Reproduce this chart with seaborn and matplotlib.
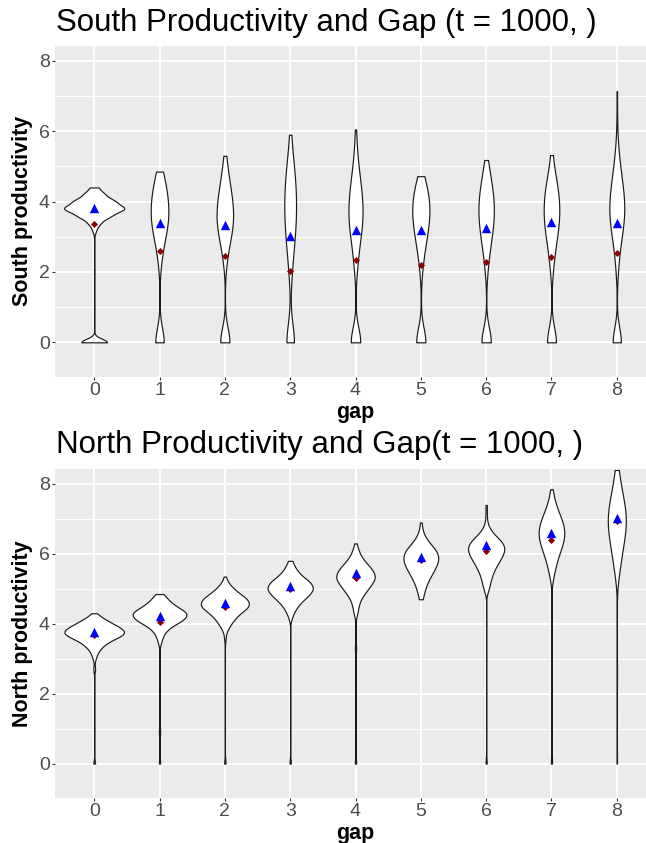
"""
Violin plots of South / North productivity by technology gap (t = 1000),
redrawn in seaborn with a ggplot-like grey theme.
"""

import numpy as np
import pandas as pd
import matplotlib
matplotlib.use("Agg")
import matplotlib.pyplot as plt
import seaborn as sns

GAPS = [0, 1, 2, 3, 4, 5, 6, 7, 8]

SOUTH_VALUES = [
    [0.0, 3.2, 3.4, 3.6, 3.8, 4.0, 4.2, 4.4],
    [0.0, 2.2, 2.6, 3.0, 3.4, 3.8, 4.2, 4.6, 4.85],
    [0.0, 2.2, 2.6, 3.0, 3.4, 3.8, 4.2, 4.6, 5.0, 5.3],
    [0.0, 1.8, 2.2, 2.6, 3.0, 3.4, 3.8, 4.2, 4.6, 5.0, 5.4, 5.9],
    [0.0, 2.0, 2.4, 2.8, 3.2, 3.6, 4.0, 4.4, 4.8, 5.2, 5.6, 6.05],
    [0.0, 2.0, 2.4, 2.8, 3.2, 3.6, 4.0, 4.4, 4.72],
    [0.0, 2.0, 2.4, 2.8, 3.2, 3.6, 4.0, 4.4, 4.8, 5.18],
    [0.0, 2.0, 2.4, 2.8, 3.2, 3.6, 4.0, 4.4, 4.8, 5.32],
    [0.0, 2.0, 2.4, 2.8, 3.2, 3.6, 4.0, 4.4, 4.8, 5.2, 5.6, 6.2, 7.14],
]
SOUTH_COUNTS = [
    [15, 2, 6, 16, 30, 20, 10, 4],
    [18, 2, 5, 10, 16, 16, 14, 9, 3],
    [19, 2, 5, 10, 15, 14, 11, 7, 4, 1],
    [18, 2, 3, 5, 7, 9, 9, 9, 8, 6, 3, 2],
    [19, 2, 4, 6, 10, 12, 11, 9, 6, 3, 2, 1],
    [19, 2, 4, 8, 12, 15, 15, 11, 3],
    [19, 2, 4, 7, 11, 13, 13, 10, 6, 2],
    [18, 2, 4, 7, 11, 13, 13, 10, 6, 2],
    [17, 2, 3, 6, 10, 13, 13, 10, 7, 4, 2, 1, 1],
]

# North productivity
NORTH_VALUES = [
    [0.0, 2.7, 3.0, 3.1, 3.2, 3.3, 3.4, 3.5, 3.6, 3.7, 3.8, 3.9, 4.0, 4.1, 4.2, 4.3],
    [0.0, 0.9, 3.5, 3.7, 3.9, 4.1, 4.3, 4.5, 4.7, 4.85],
    [0.0, 3.6, 3.9, 4.1, 4.3, 4.5, 4.7, 4.9, 5.1, 5.35],
    [0.0, 4.2, 4.4, 4.6, 4.8, 5.0, 5.2, 5.4, 5.6, 5.8],
    [0.0, 3.3, 4.3, 4.5, 4.7, 4.9, 5.1, 5.3, 5.5, 5.7, 5.9, 6.1, 6.3],
    [4.7, 4.9, 5.1, 5.3, 5.5, 5.7, 5.9, 6.1, 6.3, 6.5, 6.7, 6.9],
    [0.0, 5.0, 5.2, 5.4, 5.6, 5.8, 6.0, 6.2, 6.4, 6.6, 6.8, 7.1, 7.4],
    [0.0, 2.8, 5.4, 5.6, 5.8, 6.0, 6.2, 6.4, 6.6, 6.8, 7.0, 7.2, 7.4, 7.6, 7.85],
    [0.0, 2.6, 5.4, 5.7, 6.0, 6.3, 6.6, 6.9, 7.2, 7.5, 7.8, 8.1, 8.4],
]
NORTH_COUNTS = [
    [1, 1, 1, 1, 2, 3, 5, 7, 11, 15, 15, 12, 9, 6, 3, 1],
    [1, 1, 2, 4, 10, 24, 30, 16, 8, 2],
    [1, 1, 4, 8, 14, 24, 22, 12, 5, 1],
    [1, 2, 5, 10, 18, 24, 20, 10, 5, 2],
    [1, 1, 2, 3, 5, 10, 15, 20, 18, 12, 6, 3, 1],
    [2, 3, 5, 8, 12, 16, 18, 16, 8, 3, 1, 1],
    [1, 3, 4, 6, 9, 13, 17, 19, 14, 6, 2, 1, 1],
    [2, 1, 3, 4, 5, 8, 11, 13, 15, 13, 11, 7, 4, 3, 1],
    [1, 1, 3, 5, 7, 9, 12, 14, 13, 10, 7, 4, 3],
]

# summary markers per gap (blue triangle / dark red diamond)
SOUTH_TRIANGLE = [3.83, 3.38, 3.32, 3.03, 3.18, 3.19, 3.26, 3.41, 3.38]
SOUTH_DIAMOND = [3.36, 2.59, 2.46, 2.03, 2.33, 2.21, 2.29, 2.43, 2.53]
NORTH_TRIANGLE = [3.76, 4.21, 4.59, 5.08, 5.45, 5.90, 6.25, 6.61, 7.02]
NORTH_DIAMOND = [3.67, 4.05, 4.49, 5.00, 5.30, 5.83, 6.08, 6.41, 6.93]

W, H = 646, 843


def to_long(values, counts, name):
    rows = []
    for gap, v, c in zip(GAPS, values, counts):
        rows.append(pd.DataFrame({"gap": gap, name: np.repeat(v, c)}))
    return pd.concat(rows, ignore_index=True)


def nrd0(kde):
    """ggplot's default bandwidth (bw.nrd0), returned as a scipy kde factor."""
    x = kde.dataset[0]
    sd = x.std(ddof=1)
    q75, q25 = np.percentile(x, [75, 25])
    lo = min(sd, (q75 - q25) / 1.34) or sd
    return 0.9 * lo * len(x) ** -0.2 / sd


def ggplot_axes(ax):
    ax.set_facecolor("#EBEBEB")
    for s in ax.spines.values():
        s.set_visible(False)
    ax.set_xlim(-0.6, 8.6)
    ax.set_ylim(-0.977, 8.428)
    ax.set_yticks([0, 2, 4, 6, 8])
    ax.set_yticks([1, 3, 5, 7], minor=True)
    ax.set_axisbelow(True)
    ax.grid(False)
    ax.grid(which="major", axis="both", color="white", lw=1.4)
    ax.grid(which="minor", axis="y", color="white", lw=0.7)
    ax.tick_params(which="major", bottom=True, left=True, length=2.3, width=0.8,
                   color="#333333", labelcolor="#4D4D4D", labelsize=14, pad=1.5)
    ax.tick_params(which="minor", length=0)
    ax.set_xlabel("")
    ax.set_ylabel("")


def draw_panel(ax, df, col, tri, dia, bw_adjust, width):
    sns.violinplot(data=df, x="gap", y=col, color="white", saturation=1,
                   linecolor="#1A1A1A", linewidth=0.85, inner=None, cut=0,
                   density_norm="area", width=width, gridsize=512,
                   bw_method=nrd0, bw_adjust=bw_adjust, ax=ax)
    ax.scatter(GAPS, dia, marker="D", s=13, color="#8B0000", lw=0, zorder=3)
    ax.scatter(GAPS, tri, marker="^", s=46, color="blue", lw=0, zorder=4)
    ggplot_axes(ax)


def main():
    sns.set_theme(style="darkgrid")
    plt.rcParams["font.family"] = ["Liberation Sans", "DejaVu Sans"]

    south = to_long(SOUTH_VALUES, SOUTH_COUNTS, "south")
    north = to_long(NORTH_VALUES, NORTH_COUNTS, "north")

    fig = plt.figure(figsize=(W / 100, H / 100), dpi=100)
    left, width = 55 / W, 601 / W
    ax1 = fig.add_axes([left, 1 - 376.7 / H, width, 331 / H])
    ax2 = fig.add_axes([left, 1 - 797.7 / H, width, 328.7 / H])

    draw_panel(ax1, south, "south", SOUTH_TRIANGLE, SOUTH_DIAMOND, 0.95, 0.92)
    draw_panel(ax2, north, "north", NORTH_TRIANGLE, NORTH_DIAMOND, 1.2, 0.91)

    title_kw = dict(fontsize=22.5, color="black", ha="left", va="baseline")
    fig.text(56.5 / W, 1 - 30.7 / H, "South Productivity and Gap (t = 1000, )", **title_kw)
    fig.text(56.5 / W, 1 - 453.3 / H, "North Productivity and Gap(t = 1000, )", **title_kw)

    lab_kw = dict(fontsize=15.5, fontweight="bold", color="black")
    cx = (55 + 656) / 2 / W
    fig.text(cx, 1 - 417.7 / H, "gap", ha="center", va="baseline", **lab_kw)
    fig.text(cx, 1 - 838.7 / H, "gap", ha="center", va="baseline", **lab_kw)
    fig.text(23 / W, 1 - 211.2 / H, "South productivity", rotation=90,
             ha="center", va="center", **lab_kw)
    fig.text(23 / W, 1 - 633.3 / H, "North productivity", rotation=90,
             ha="center", va="center", **lab_kw)

    fig.savefig("out.png", dpi=100)
    plt.close(fig)


if __name__ == "__main__":
    main()
